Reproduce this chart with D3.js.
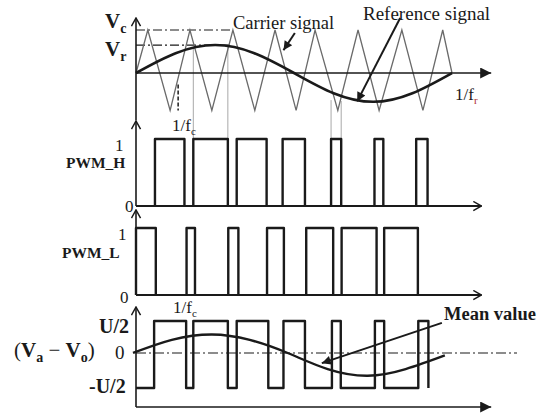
<!DOCTYPE html>
<html>
<head>
<meta charset="utf-8">
<script src="https://cdn.jsdelivr.net/npm/d3@7"></script>
<style>
	body { margin: 0; background: #fff; }
	svg { display: block; }
	text { font-family: "Liberation Serif", "Times New Roman", serif; fill: #1a1a1a; }
</style>
</head>
<body>
<svg></svg>
<script>
var width = 541,
	height = 414;

// time is counted in carrier periods (1/fc), one reference period = 7.5
var carrierT = [0, 0.28, 0.81, 1.28, 1.8, 2.3, 2.82, 3.3, 3.8, 4.25, 4.79, 5.27, 5.77, 6.31, 6.81, 7.28, 7.5];
var carrierV = [0, 1, -0.87, 1, -0.87, 1, -0.87, 1, -0.87, 1, -0.87, 1, -0.87, 1, -0.87, 1, 0];

var refT = [0, 0.94, 1.88, 2.81, 3.75, 4.69, 5.63, 6.56, 7.5];
var refV = [0, 0.46, 0.65, 0.46, 0, -0.47, -0.67, -0.47, 0];

// [rise, fall] of every pulse
var pwmH = [[0.45, 1.15], [1.36, 2.18], [2.39, 3.1], [3.48, 4.01], [4.63, 4.87], [5.66, 5.87], [6.65, 6.92]];
var pwmL = [[0, 0.47], [1.2, 1.4], [2.19, 2.43], [3.11, 3.51], [4.04, 4.68], [4.88, 5.71], [5.89, 6.69]];

// switching instants of (Va - Vo), starts at -U/2
var vaoEdges = [0.43, 1.19, 1.36, 2.18, 2.39, 3.14, 3.5, 4.01, 4.65, 4.86, 5.67, 5.89, 6.7, 6.94];

var meanT = [-0.07, 0.85, 1.8, 2.7, 3.6, 4.55, 5.5, 6.4, 7.33];
var meanV = [0, 0.41, 0.58, 0.41, 0, -0.46, -0.65, -0.46, -0.07];

// thin grey projections from the crossings down to PWM_H
var projT = [1.36, 2.18, 4.63, 4.87];
var projV = [0.6, 0.63, -0.63, -0.65];

var svg = d3.select("svg").attr("width", width).attr("height", height);

var x = d3.scaleLinear().domain([0, 7.5]).range([136, 452]);
var yTop = d3.scaleLinear().domain([0, 1]).range([73, 30]);
var yH = d3.scaleLinear().domain([0, 1]).range([206, 139]);
var yL = d3.scaleLinear().domain([0, 1]).range([295, 228]);
var yV = d3.scaleLinear().domain([-1, 0, 1]).range([388, 353, 321]);

var ink = "#1a1a1a";

// markers
var defs = svg.append("defs");
defs
	.append("marker")
	.attr("id", "tri")
	.attr("viewBox", "0 -5 10 10")
	.attr("refX", 10)
	.attr("refY", 0)
	.attr("markerWidth", 12)
	.attr("markerHeight", 11)
	.attr("markerUnits", "userSpaceOnUse")
	.attr("orient", "auto")
	.append("path")
	.attr("d", "M0,-5L10,0L0,5Z")
	.style("fill", ink);
defs
	.append("marker")
	.attr("id", "head")
	.attr("viewBox", "0 -5 10 10")
	.attr("refX", 10)
	.attr("refY", 0)
	.attr("markerWidth", 11)
	.attr("markerHeight", 9)
	.attr("markerUnits", "userSpaceOnUse")
	.attr("orient", "auto")
	.append("path")
	.attr("d", "M0,-5L10,0L0,5Z")
	.style("fill", ink);
defs
	.append("marker")
	.attr("id", "chev")
	.attr("viewBox", "0 -6 11 12")
	.attr("refX", 10)
	.attr("refY", 0)
	.attr("markerWidth", 10)
	.attr("markerHeight", 11)
	.attr("markerUnits", "userSpaceOnUse")
	.attr("orient", "auto")
	.append("path")
	.attr("d", "M1,-5L10,0L1,5")
	.style("fill", "none")
	.style("stroke", ink)
	.style("stroke-width", 1.6);

function seg(x1, y1, x2, y2) {
	return svg
		.append("line")
		.attr("x1", x1)
		.attr("y1", y1)
		.attr("x2", x2)
		.attr("y2", y2)
		.style("stroke", ink);
}

// ---------- top panel: carrier vs reference ----------
seg(x(0), yTop(1), x(2.28), yTop(1))
	.style("stroke-width", 1.2)
	.style("stroke-dasharray", "9,3,2,3");
seg(x(0), yTop(0.65), x(2.23), yTop(0.65))
	.style("stroke-width", 1.2)
	.style("stroke-dasharray", "9,3,2,3");

// projections
projT.forEach(function (t, i) {
	seg(x(t), yTop(projV[i]), x(t), yH(1)).style("stroke", "#a8a8a8").style("stroke-width", 1);
});

// 1/fc marker
seg(x(1), yTop(-0.27), x(1), yTop(-0.87)).style("stroke-width", 1.5).style("stroke-dasharray", "4,2");

svg
	.append("path")
	.datum(d3.zip(carrierT, carrierV))
	.attr("d", d3.line().x((d) => x(d[0])).y((d) => yTop(d[1])))
	.style("fill", "none")
	.style("stroke", "#6a6a6a")
	.style("stroke-width", 1.3);

svg
	.append("path")
	.datum(d3.zip(refT, refV))
	.attr(
		"d",
		d3
			.line()
			.curve(d3.curveNatural)
			.x((d) => x(d[0]))
			.y((d) => yTop(d[1]))
	)
	.style("fill", "none")
	.style("stroke", ink)
	.style("stroke-width", 2.6);

// axes
seg(x(0), yTop(0), x(8.43), yTop(0)).style("stroke-width", 1.6).attr("marker-end", "url(#tri)");
seg(x(0), yTop(-1.1), x(0), 18).style("stroke-width", 1.6).attr("marker-end", "url(#chev)");

// ---------- PWM panels ----------
function pulsePath(p, y) {
	return "M" + x(p[0]) + "," + y(0) + "V" + y(1) + "H" + x(p[1]) + "V" + y(0);
}

[
	[pwmH, yH],
	[pwmL, yL],
].forEach(function (panel) {
	var y = panel[1];
	seg(x(0), y(0), x(8.2), y(0)).style("stroke-width", 1.8).attr("marker-end", "url(#chev)");
	seg(x(0), y(0), x(0), y(1.27)).style("stroke-width", 1.6).attr("marker-end", "url(#chev)");
	svg
		.append("g")
		.selectAll("path")
		.data(panel[0])
		.enter()
		.append("path")
		.attr("d", (d) => pulsePath(d, y))
		.style("fill", "none")
		.style("stroke", ink)
		.style("stroke-width", 2.4)
		.style("stroke-linejoin", "round");
});

// ---------- (Va - Vo) panel ----------
seg(x(0), yV(0), 517, yV(0)).style("stroke-width", 1.2).style("stroke-dasharray", "10,3,2,3");
seg(x(0), 407, x(8.43), 407).style("stroke-width", 1.6).attr("marker-end", "url(#tri)");
seg(x(0), 407, x(0), 307).style("stroke-width", 1.6).attr("marker-end", "url(#chev)");

var vaoPts = [[0, -1]];
var level = -1;
vaoEdges.forEach(function (e) {
	vaoPts.push([e, level]);
	level = -level;
	vaoPts.push([e, level]);
});

svg
	.append("path")
	.datum(vaoPts)
	.attr("d", d3.line().x((d) => x(d[0])).y((d) => yV(d[1])))
	.style("fill", "none")
	.style("stroke", ink)
	.style("stroke-width", 2.4)
	.style("stroke-linejoin", "round");

svg
	.append("path")
	.datum(d3.zip(meanT, meanV))
	.attr(
		"d",
		d3
			.line()
			.curve(d3.curveNatural)
			.x((d) => x(d[0]))
			.y((d) => yV(d[1]))
	)
	.style("fill", "none")
	.style("stroke", ink)
	.style("stroke-width", 2.4);

// ---------- pointer arrows ----------
seg(x(6.27), yTop(1.28), x(5.25), yTop(-0.66)).style("stroke-width", 2).attr("marker-end", "url(#head)");
seg(x(3.77), yTop(0.93), x(3.5), yTop(0.53)).style("stroke-width", 2).attr("marker-end", "url(#head)");
seg(x(7.26), yV(0.94), x(4.41), yV(-0.29)).style("stroke-width", 2).attr("marker-end", "url(#head)");

// ---------- labels ----------
// parts starting with "_" are subscripts
function addText(xp, yp, parts, size, weight, fill) {
	var t = svg
		.append("text")
		.attr("x", xp)
		.attr("y", yp)
		.style("font-size", size + "px")
		.style("font-weight", weight || "normal");
	var inSub = false;
	var shift = Math.round(size * 0.25);
	parts.forEach(function (p) {
		var s = t.append("tspan");
		var w = null;
		if (typeof p == "object") {
			w = p.w;
			p = p.t;
		}
		if (p.charAt(0) == "_") {
			s.text(p.slice(1)).style("font-size", Math.round(size * 0.66) + "px");
			if (!inSub) s.attr("dy", shift);
			inSub = true;
			if (fill) s.style("fill", fill);
		} else {
			s.text(p);
			if (inSub) s.attr("dy", -shift);
			inSub = false;
		}
		if (w) s.style("font-weight", w);
	});
	return t;
}

addText(105, 28, ["V", "_c"], 21, "bold");
addText(105, 56, ["V", "_r"], 21, "bold");
addText(233, 29, ["Carrier signal"], 18.5);
addText(363, 20, ["Reference signal"], 19);
addText(455, 100, ["1/f", "_r"], 17, "normal", "#b0302a");
addText(172, 131, ["1/f", "_c"], 17);

addText(115, 151, ["1"], 17);
addText(66, 168, ["PWM_H"], 15.5, "bold");
addText(125, 212, ["0"], 17);

addText(118, 240, ["1"], 17);
addText(62, 258, ["PWM_L"], 15.5, "bold");
addText(120, 303, ["0"], 17);

addText(173, 313, ["1/f", "_c"], 17);
addText(99, 333, ["U/2"], 20, "bold");
addText(115, 359, ["0"], 19);
addText(89, 393, ["-U/2"], 20, "bold");
addText(14, 357, ["(", { t: "V", w: "bold" }, { t: "_a", w: "bold" }, " \u2212 ", { t: "V", w: "bold" }, { t: "_o", w: "bold" }, ")"], 21);
addText(444, 320, ["Mean value"], 18.5, "bold");
</script>
</body>
</html>
